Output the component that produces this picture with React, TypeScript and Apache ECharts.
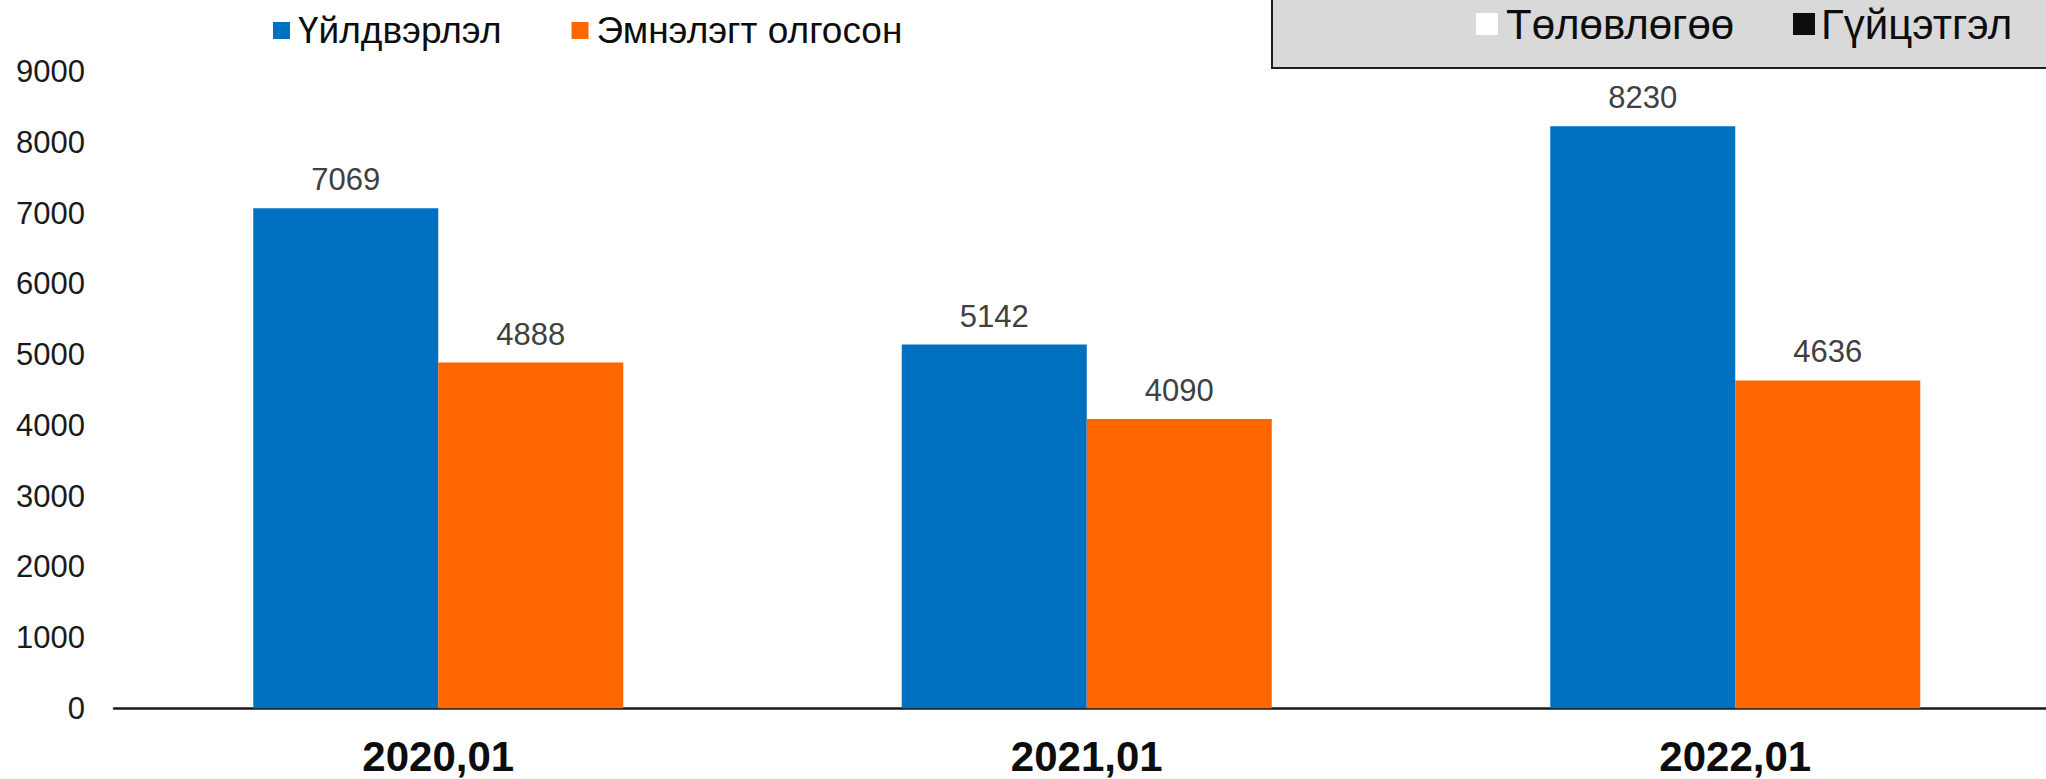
import React, { useEffect, useRef } from "react";
import * as echarts from "echarts";

const categories = ["2020,01", "2021,01", "2022,01"];
const seriesNames = ["Үйлдвэрлэл", "Эмнэлэгт олгосон"];
const productionValues = [7069, 5142, 8230];
const hospitalValues = [4888, 4090, 4636];
const extraLegend = ["Төлөвлөгөө", "Гүйцэтгэл"];

const FONT = "'Liberation Sans', Arial, sans-serif";

export default function App() {
  const ref = useRef<HTMLDivElement>(null);

  useEffect(() => {
    if (!ref.current) return;
    const chart = echarts.init(ref.current, null, { renderer: "svg" });
    const option: any = {
      animation: false,
      backgroundColor: "#ffffff",
      textStyle: { fontFamily: FONT },
      grid: {
        left: 114,
        right: -13.5,
        top: 71.7,
        bottom: 70.7,
        containLabel: false,
        outerBoundsMode: "none",
      },
      legend: {
        left: 268,
        top: 7,
        itemWidth: 17,
        itemHeight: 17,
        itemGap: 70,
        icon: "rect",
        data: seriesNames,
        textStyle: {
          fontFamily: FONT,
          fontSize: 37,
          color: "#0d0d0d",
          padding: [0, 0, 0, 3],
        },
      },
      xAxis: {
        type: "category",
        data: categories,
        axisLine: { show: true, lineStyle: { color: "#1a1a1a", width: 2.5 } },
        axisTick: { show: false },
        axisLabel: {
          margin: 27,
          fontFamily: FONT,
          fontSize: 42,
          fontWeight: "bold",
          color: "#0d0d0d",
        },
      },
      yAxis: {
        type: "value",
        min: 0,
        max: 9000,
        interval: 1000,
        axisLine: { show: false },
        axisTick: { show: false },
        splitLine: { show: false },
        axisLabel: {
          margin: 29,
          fontFamily: FONT,
          fontSize: 31,
          color: "#1a1a1a",
          formatter: (v: number) => String(v),
        },
      },
      series: [
        {
          name: seriesNames[0],
          type: "bar",
          data: productionValues,
          barWidth: 185,
          barGap: "0%",
          itemStyle: { color: "#0070C0" },
          label: {
            show: true,
            position: "top",
            distance: 13,
            fontFamily: FONT,
            fontSize: 31,
            color: "#404040",
          },
        },
        {
          name: seriesNames[1],
          type: "bar",
          data: hospitalValues,
          barWidth: 185,
          barGap: "0%",
          itemStyle: { color: "#FF6600" },
          label: {
            show: true,
            position: "top",
            distance: 13,
            fontFamily: FONT,
            fontSize: 31,
            color: "#404040",
          },
        },
      ],
      graphic: [
        {
          type: "rect",
          shape: { x: 1272, y: -10, width: 800, height: 78 },
          style: { fill: "#d9d9d9", stroke: "#1f1f1f", lineWidth: 2 },
          z: 10,
        },
        {
          type: "rect",
          shape: { x: 1476, y: 13, width: 22, height: 22 },
          style: { fill: "#ffffff" },
          z: 11,
        },
        {
          type: "text",
          x: 1506,
          y: 24,
          style: {
            text: extraLegend[0],
            font: `42px ${FONT}`,
            fill: "#0d0d0d",
            verticalAlign: "middle",
            align: "left",
          },
          z: 11,
        },
        {
          type: "rect",
          shape: { x: 1793, y: 13, width: 22, height: 22 },
          style: { fill: "#0d0d0d" },
          z: 11,
        },
        {
          type: "text",
          x: 1821,
          y: 24,
          style: {
            text: extraLegend[1],
            font: `42px ${FONT}`,
            fill: "#0d0d0d",
            verticalAlign: "middle",
            align: "left",
          },
          z: 11,
        },
      ],
    };
    chart.setOption(option);
    return () => chart.dispose();
  }, []);

  return (
    <div
      ref={ref}
      style={{ position: "fixed", left: 0, top: 0, width: 2046, height: 779 }}
    />
  );
}
